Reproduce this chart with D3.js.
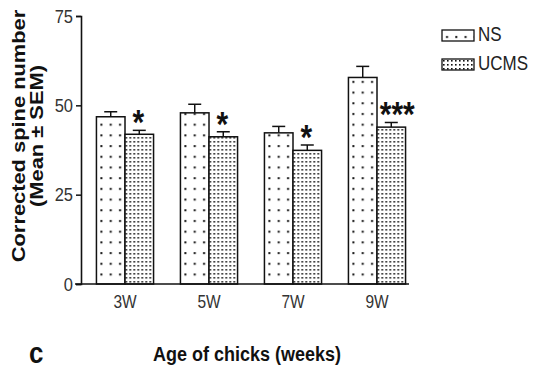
<!DOCTYPE html>
<head>
    <meta charset="utf-8">
    <script src="https://d3js.org/d3.v7.js"></script>
    <style>
        body { margin: 0; background: #fff; }
        text { font-family: "Liberation Sans", Arial, sans-serif; }
    </style>
</head>
<body>
    <svg id="chart" width="534" height="372"></svg>
    <script>
        // data
        const categories = ["3W", "5W", "7W", "9W"];
        const groups = ["NS", "UCMS"];
        const nsMean = [46.8, 47.9, 42.3, 57.8];
        const nsSem = [1.4, 2.4, 1.8, 3.1];
        const ucmsMean = [41.9, 41.2, 37.4, 43.9];
        const ucmsSem = [1.1, 1.4, 1.5, 1.3];
        const stars = ["*", "*", "*", "***"];
        const yTicks = [0, 25, 50, 75];

        // the original figure is a bit stretched vertically
        const sy = 1.15;

        const svg = d3.select("#chart");

        // patterns
        const defs = svg.append("defs");
        const sparse = defs.append("pattern")
            .attr("id", "sparse").attr("patternUnits", "userSpaceOnUse")
            .attr("x", 1).attr("y", 2)
            .attr("width", 9.3).attr("height", 10.7);
        sparse.append("rect").attr("width", 9.3).attr("height", 10.7).attr("fill", "#fff");
        sparse.append("rect").attr("x", 3).attr("y", 4).attr("width", 2).attr("height", 2).attr("fill", "#111");

        const dense = defs.append("pattern")
            .attr("id", "dense").attr("patternUnits", "userSpaceOnUse")
            .attr("width", 4).attr("height", 4);
        dense.append("rect").attr("width", 4).attr("height", 4).attr("fill", "#fff");
        dense.append("rect").attr("x", 1).attr("y", 1).attr("width", 1.6).attr("height", 1.6).attr("fill", "#111");

        const fills = { NS: "url(#sparse)", UCMS: "url(#dense)" };

        // scales
        const y = d3.scaleLinear().domain([0, 75]).range([284, 16]);
        const x = d3.scaleBand().domain(categories).range([83, 419])
            .paddingInner(0.32).paddingOuter(0.16);
        const xs = d3.scaleBand().domain(groups).range([0, x.bandwidth()]);

        const rows = categories.map((c, i) => ({
            cat: c,
            star: stars[i],
            bars: [
                { g: "NS", mean: nsMean[i], sem: nsSem[i] },
                { g: "UCMS", mean: ucmsMean[i], sem: ucmsSem[i] }
            ]
        }));

        // bars
        const grp = svg.append("g").selectAll("g")
            .data(rows).join("g")
            .attr("transform", d => `translate(${x(d.cat)},0)`);

        const bar = grp.selectAll("g.bar")
            .data(d => d.bars).join("g").attr("class", "bar");

        // error bars (up only)
        bar.append("line")
            .attr("x1", d => xs(d.g) + xs.bandwidth() / 2)
            .attr("x2", d => xs(d.g) + xs.bandwidth() / 2)
            .attr("y1", d => y(d.mean))
            .attr("y2", d => y(d.mean + d.sem))
            .attr("stroke", "#111").attr("stroke-width", 1.5);
        bar.append("line")
            .attr("x1", d => xs(d.g) + xs.bandwidth() / 2 - 6.5)
            .attr("x2", d => xs(d.g) + xs.bandwidth() / 2 + 6.5)
            .attr("y1", d => y(d.mean + d.sem))
            .attr("y2", d => y(d.mean + d.sem))
            .attr("stroke", "#111").attr("stroke-width", 1.5);

        bar.append("rect")
            .attr("x", d => xs(d.g))
            .attr("y", d => y(d.mean))
            .attr("width", xs.bandwidth())
            .attr("height", d => y(0) - y(d.mean))
            .attr("fill", d => fills[d.g])
            .attr("stroke", "#111").attr("stroke-width", 1.5);

        // significance stars above UCMS bars
        grp.append("text")
            .attr("transform", d => {
                const cx = xs("UCMS") + xs.bandwidth() / 2 + (d.star.length > 1 ? 6 : -1);
                const cy = y(d.bars[1].mean + d.bars[1].sem) + 4;
                return `translate(${cx},${cy}) scale(1,${sy})`;
            })
            .attr("text-anchor", "middle")
            .attr("font-size", 30).attr("font-weight", "bold")
            .attr("fill", "#111")
            .text(d => d.star);

        // y axis
        const yAxis = svg.append("g")
            .attr("transform", "translate(81,0)")
            .call(d3.axisLeft(y).tickValues(yTicks).tickSize(5).tickPadding(3));
        yAxis.select(".domain").attr("stroke", "#111").attr("stroke-width", 1.6);
        yAxis.selectAll(".tick line").attr("stroke", "#111").attr("stroke-width", 1.5);
        yAxis.selectAll(".tick text")
            .attr("font-size", 16.5).attr("fill", "#333")
            .attr("transform", `scale(1,${sy})`)
            .style("font-family", "'Liberation Sans', Arial, sans-serif");

        // x axis
        svg.append("line")
            .attr("x1", 75).attr("x2", 409)
            .attr("y1", y(0)).attr("y2", y(0))
            .attr("stroke", "#111").attr("stroke-width", 1.6);
        const xAxis = svg.append("g")
            .attr("transform", `translate(0,${y(0)})`)
            .call(d3.axisBottom(x).tickSize(0).tickPadding(10));
        xAxis.select(".domain").remove();
        xAxis.selectAll(".tick text")
            .attr("font-size", 15.5).attr("fill", "#333")
            .attr("transform", `scale(1,${sy})`)
            .style("font-family", "'Liberation Sans', Arial, sans-serif");

        // titles
        svg.append("text")
            .attr("transform", `translate(247,360.5) scale(1,${sy})`)
            .attr("text-anchor", "middle")
            .attr("font-size", 18).attr("font-weight", "bold").attr("fill", "#111")
            .text("Age of chicks (weeks)");

        svg.append("text")
            .attr("transform", `translate(29,363) scale(1,${sy})`)
            .attr("font-size", 26).attr("font-weight", "bold").attr("fill", "#111")
            .text("c");

        const yTitle = svg.append("text")
            .attr("transform", `translate(0,136) scale(1,${sy}) rotate(-90)`)
            .attr("text-anchor", "middle")
            .attr("font-size", 19).attr("font-weight", "bold").attr("fill", "#111");
        yTitle.append("tspan").attr("x", 0).attr("y", 25).text("Corrected spine number");
        yTitle.append("tspan").attr("x", 0).attr("y", 43.5).text("(Mean \u00b1 SEM)");

        // legend
        const legend = svg.append("g").selectAll("g")
            .data(groups).join("g")
            .attr("transform", (d, i) => `translate(442,${30 + i * 29})`);
        legend.append("rect")
            .attr("width", 32).attr("height", 11)
            .attr("fill", d => fills[d])
            .attr("stroke", "#111").attr("stroke-width", 1.3);
        legend.append("text")
            .attr("transform", `translate(36,11) scale(1,${sy})`)
            .attr("font-size", 17).attr("fill", "#222")
            .text(d => d);
    </script>
</body>
